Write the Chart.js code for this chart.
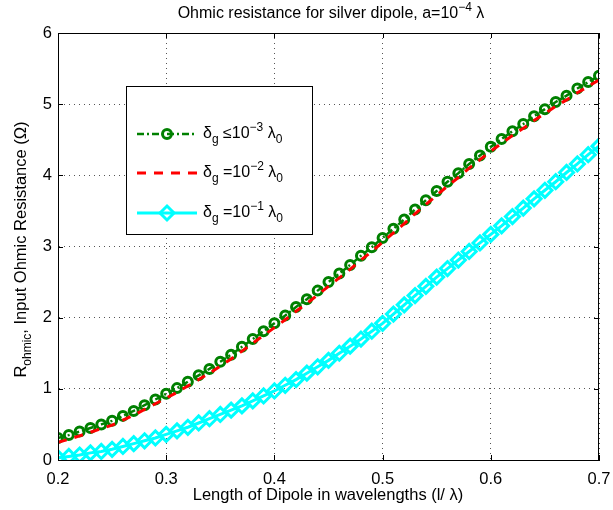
<!DOCTYPE html>
<html>
<head>
<meta charset="utf-8">
<script src="https://cdn.jsdelivr.net/npm/chart.js@4"></script>
<style>
  html, body { margin: 0; padding: 0; background: #fff; }
</style>
</head>
<body>
<canvas id="chart" width="613" height="510"></canvas>
<script>
// Dipole length (l / lambda)
const lengths = [
  0.20, 0.21, 0.22, 0.23, 0.24, 0.25, 0.26, 0.27, 0.28, 0.29,
  0.30, 0.31, 0.32, 0.33, 0.34, 0.35, 0.36, 0.37, 0.38, 0.39,
  0.40, 0.41, 0.42, 0.43, 0.44, 0.45, 0.46, 0.47, 0.48, 0.49,
  0.50, 0.51, 0.52, 0.53, 0.54, 0.55, 0.56, 0.57, 0.58, 0.59,
  0.60, 0.61, 0.62, 0.63, 0.64, 0.65, 0.66, 0.67, 0.68, 0.69,
  0.70
];

// delta_g <= 1e-3 lambda0
const rGap3 = [
  0.31, 0.35, 0.40, 0.45, 0.50, 0.55, 0.62, 0.69, 0.77, 0.85,
  0.93, 1.01, 1.10, 1.19, 1.28, 1.38, 1.48, 1.59, 1.70, 1.81,
  1.92, 2.03, 2.15, 2.26, 2.38, 2.50, 2.62, 2.74, 2.87, 2.99,
  3.12, 3.25, 3.38, 3.52, 3.65, 3.78, 3.91, 4.03, 4.16, 4.28,
  4.40, 4.51, 4.62, 4.72, 4.83, 4.93, 5.03, 5.12, 5.22, 5.31,
  5.40
];

// delta_g = 1e-2 lambda0
const rGap2 = [
  0.25, 0.29, 0.34, 0.39, 0.44, 0.49, 0.56, 0.63, 0.71, 0.79,
  0.87, 0.95, 1.04, 1.13, 1.22, 1.32, 1.42, 1.53, 1.64, 1.75,
  1.86, 1.97, 2.09, 2.20, 2.32, 2.44, 2.56, 2.68, 2.81, 2.93,
  3.06, 3.19, 3.32, 3.46, 3.59, 3.72, 3.85, 3.97, 4.10, 4.22,
  4.34, 4.45, 4.56, 4.66, 4.77, 4.87, 4.97, 5.06, 5.16, 5.25,
  5.34
];

// delta_g = 1e-1 lambda0
const rGap1 = [
  0.03, 0.05, 0.07, 0.10, 0.12, 0.15, 0.19, 0.23, 0.27, 0.31,
  0.36, 0.41, 0.46, 0.52, 0.58, 0.64, 0.70, 0.76, 0.83, 0.90,
  0.97, 1.05, 1.13, 1.22, 1.31, 1.40, 1.50, 1.60, 1.70, 1.81,
  1.92, 2.05, 2.18, 2.31, 2.44, 2.57, 2.69, 2.81, 2.93, 3.05,
  3.17, 3.29, 3.42, 3.54, 3.67, 3.79, 3.91, 4.04, 4.16, 4.29,
  4.41
];

// Text pieces: [text, 'sub' | 'sup' | '']
const titleParts = [['Ohmic resistance for silver dipole, a=10', ''], ['\u22124', 'sup'], [' \u03bb', '']];
const yLabelParts = [['R', ''], ['ohmic', 'sub'], [', Input Ohmic Resistance (\u03a9)', '']];
const xLabel = 'Length of Dipole in wavelengths (l/ \u03bb)';
const legendLabels = [
  [['\u03b4', ''], ['g', 'sub'], [' \u226410', ''], ['\u22123', 'sup'], [' \u03bb', ''], ['0', 'sub']],
  [['\u03b4', ''], ['g', 'sub'], [' =10', ''], ['\u22122', 'sup'], [' \u03bb', ''], ['0', 'sub']],
  [['\u03b4', ''], ['g', 'sub'], [' =10', ''], ['\u22121', 'sup'], [' \u03bb', ''], ['0', 'sub']]
];

const FONT = "'Liberation Sans', Arial, Helvetica, sans-serif";
const TEXT_SIZE = 16.5;

function toPoints(ys) {
  return lengths.map((x, i) => ({ x: x, y: ys[i] }));
}

// Measure and draw text made of normal / sub / sup parts
function partFont(kind, size) {
  const s = kind ? Math.round(size * 0.72) : size;
  return s + 'px ' + FONT;
}

function richWidth(ctx, parts, size) {
  let w = 0;
  parts.forEach(([t, k]) => {
    ctx.font = partFont(k, size);
    w += ctx.measureText(t).width;
  });
  return w;
}

function drawRich(ctx, parts, x, y, size, align) {
  const w = richWidth(ctx, parts, size);
  let cx = align === 'center' ? x - w / 2 : x;
  ctx.textAlign = 'left';
  ctx.textBaseline = 'middle';
  parts.forEach(([t, k]) => {
    ctx.font = partFont(k, size);
    let dy = 0;
    if (k === 'sub') dy = size * 0.38;
    if (k === 'sup') dy = -size * 0.4;
    ctx.fillText(t, cx, y + dy);
    cx += ctx.measureText(t).width;
  });
}

const decorPlugin = {
  id: 'decor',
  afterDraw(chart) {
    const { ctx, chartArea: a, scales } = chart;
    const xs = scales.x, ys = scales.y;
    ctx.save();
    ctx.setLineDash([]);
    ctx.strokeStyle = '#000';
    ctx.lineWidth = 1;

    // box around plot
    ctx.strokeRect(a.left + 0.5, a.top + 0.5, a.right - a.left - 1, a.bottom - a.top);

    // inward tick marks on all four sides
    ctx.beginPath();
    xs.ticks.forEach(t => {
      const px = Math.round(xs.getPixelForValue(t.value)) + 0.5;
      ctx.moveTo(px, a.bottom); ctx.lineTo(px, a.bottom - 5);
      ctx.moveTo(px, a.top); ctx.lineTo(px, a.top + 5);
    });
    ys.ticks.forEach(t => {
      const py = Math.round(ys.getPixelForValue(t.value)) + 0.5;
      ctx.moveTo(a.left, py); ctx.lineTo(a.left + 5, py);
      ctx.moveTo(a.right, py); ctx.lineTo(a.right - 5, py);
    });
    ctx.stroke();

    ctx.fillStyle = '#000';
    // title
    drawRich(ctx, titleParts, 331, 14, 16, 'center');

    // x axis label
    ctx.font = TEXT_SIZE + 'px ' + FONT;
    ctx.textAlign = 'center';
    ctx.textBaseline = 'middle';
    ctx.fillText(xLabel, 328, 495);

    // y axis label
    ctx.save();
    ctx.translate(21, (a.top + a.bottom) / 2 + 3);
    ctx.rotate(-Math.PI / 2);
    drawRich(ctx, yLabelParts, 0, 0, TEXT_SIZE, 'center');
    ctx.restore();

    // legend
    const bx = 126, by = 86, bw = 186, bh = 148;
    ctx.fillStyle = '#fff';
    ctx.fillRect(bx, by, bw, bh);
    ctx.strokeStyle = '#000';
    ctx.lineWidth = 1;
    ctx.strokeRect(bx + 0.5, by + 0.5, bw, bh);
    const rows = [134, 173, 213];
    chart.data.datasets.forEach((ds, i) => {
      const ry = rows[i];
      ctx.save();
      ctx.strokeStyle = ds.borderColor;
      ctx.lineWidth = ds.borderWidth;
      ctx.setLineDash(ds.borderDash || []);
      ctx.beginPath();
      ctx.moveTo(137, ry); ctx.lineTo(197, ry);
      ctx.stroke();
      ctx.setLineDash([]);
      if (ds.pointRadius > 0) {
        ctx.lineWidth = ds.pointBorderWidth;
        ctx.beginPath();
        const r = ds.pointRadius;
        if (ds.pointStyle === 'circle') {
          ctx.arc(167, ry, r, 0, Math.PI * 2);
        } else {
          ctx.moveTo(167, ry - r); ctx.lineTo(167 + r, ry);
          ctx.lineTo(167, ry + r); ctx.lineTo(167 - r, ry);
          ctx.closePath();
        }
        ctx.stroke();
      }
      ctx.restore();
      ctx.fillStyle = '#000';
      drawRich(ctx, legendLabels[i], 203, ry, 16, 'left');
    });
    ctx.restore();
  }
};

const ctx = document.getElementById('chart').getContext('2d');
new Chart(ctx, {
  type: 'line',
  data: {
    datasets: [
      {
        label: 'gap 1e-3',
        data: toPoints(rGap3),
        borderColor: '#008000',
        borderWidth: 2.5,
        borderDash: [7, 3, 2, 3],
        pointStyle: 'circle',
        pointRadius: 4.5,
        pointBorderWidth: 3,
        pointBorderColor: '#008000',
        pointBackgroundColor: 'rgba(0,0,0,0)',
        order: 2
      },
      {
        label: 'gap 1e-2',
        data: toPoints(rGap2),
        borderColor: '#ff0000',
        borderWidth: 3,
        borderDash: [9, 8],
        pointRadius: 0,
        order: 1
      },
      {
        label: 'gap 1e-1',
        data: toPoints(rGap1),
        borderColor: '#00ffff',
        borderWidth: 3,
        pointStyle: 'rectRot',
        pointRadius: 7,
        pointBorderWidth: 3,
        pointBorderColor: '#00ffff',
        pointBackgroundColor: 'rgba(0,0,0,0)',
        order: 0
      }
    ]
  },
  options: {
    responsive: false,
    animation: false,
    layout: { padding: { top: 33, right: 14, left: 0, bottom: 0 } },
    plugins: {
      legend: { display: false },
      title: { display: false },
      tooltip: { enabled: false }
    },
    elements: { line: { tension: 0 } },
    scales: {
      x: {
        type: 'linear',
        min: 0.2,
        max: 0.7,
        afterFit: s => {
          s.height = 50;
          s.paddingLeft = 0;
          s.paddingRight = 0;
        },
        ticks: {
          stepSize: 0.1,
          color: '#000',
          padding: 10,
          font: { family: FONT, size: TEXT_SIZE },
          callback: v => v.toFixed(1)
        },
        grid: { color: '#555', drawTicks: false, lineWidth: 1 },
        border: { display: true, color: '#000', dash: [1, 4] }
      },
      y: {
        min: 0,
        max: 6,
        afterFit: s => {
          s.width = 58;
          s.paddingTop = 0;
          s.paddingBottom = 0;
        },
        ticks: {
          stepSize: 1,
          color: '#000',
          padding: 6,
          font: { family: FONT, size: TEXT_SIZE }
        },
        grid: { color: '#555', drawTicks: false, lineWidth: 1 },
        border: { display: true, color: '#000', dash: [1, 4] }
      }
    }
  },
  plugins: [decorPlugin]
});
</script>
</body>
</html>
